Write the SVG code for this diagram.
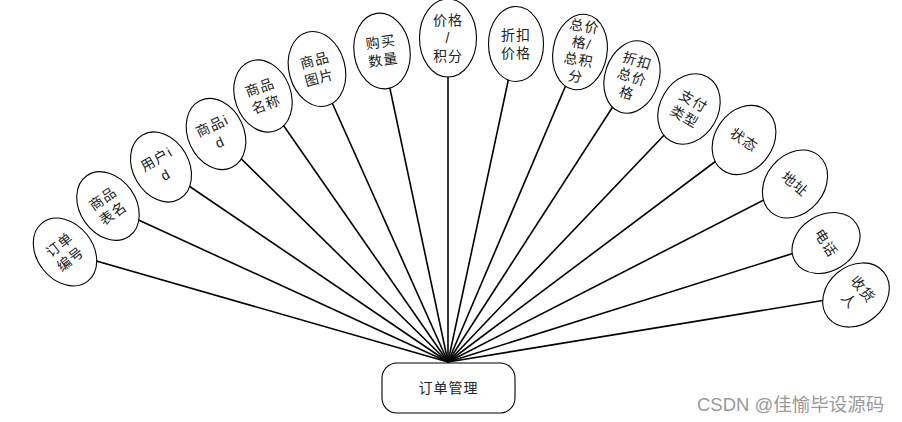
<svg xmlns="http://www.w3.org/2000/svg" width="902" height="422" viewBox="0 0 902 422">
<style>
.e{fill:#fff;stroke:#000;stroke-width:1.1}
.t{font-family:"Liberation Sans","Noto Sans CJK SC",sans-serif;font-size:14px;letter-spacing:1px;fill:#222;text-anchor:middle;dominant-baseline:central}
.c line{stroke:#000;stroke-width:1.6}
</style>
<rect width="902" height="422" fill="#fff"/>
<g id="connectors" class="c">
<line x1="448" y1="362" x2="65" y2="252"/>
<line x1="448" y1="362" x2="108" y2="206"/>
<line x1="448" y1="362" x2="161" y2="167"/>
<line x1="448" y1="362" x2="216" y2="134"/>
<line x1="448" y1="362" x2="263" y2="96"/>
<line x1="448" y1="362" x2="317" y2="69"/>
<line x1="448" y1="362" x2="382" y2="51"/>
<line x1="448" y1="362" x2="448" y2="38"/>
<line x1="448" y1="362" x2="516" y2="44"/>
<line x1="448" y1="362" x2="580" y2="52"/>
<line x1="448" y1="362" x2="632" y2="77"/>
<line x1="448" y1="362" x2="689" y2="109"/>
<line x1="448" y1="362" x2="744" y2="140"/>
<line x1="448" y1="362" x2="795" y2="184"/>
<line x1="448" y1="362" x2="826" y2="243"/>
<line x1="448" y1="362" x2="856" y2="295"/>
</g>
<g id="n1" transform="translate(65,252) rotate(-38)"><ellipse class="e" rx="28" ry="37"/><text class="t" y="-9">订单</text><text class="t" y="9">编号</text></g>
<g id="n2" transform="translate(108,206) rotate(-35)"><ellipse class="e" rx="28" ry="37"/><text class="t" y="-9">商品</text><text class="t" y="9">表名</text></g>
<g id="n3" transform="translate(161,167) rotate(-30)"><ellipse class="e" rx="28" ry="37"/><text class="t" y="-9">用户i</text><text class="t" y="9">d</text></g>
<g id="n4" transform="translate(216,134) rotate(-25)"><ellipse class="e" rx="28" ry="37"/><text class="t" y="-9">商品i</text><text class="t" y="9">d</text></g>
<g id="n5" transform="translate(263,96) rotate(-20)"><ellipse class="e" rx="28" ry="37"/><text class="t" y="-9">商品</text><text class="t" y="9">名称</text></g>
<g id="n6" transform="translate(317,69) rotate(-15)"><ellipse class="e" rx="28" ry="38"/><text class="t" y="-9">商品</text><text class="t" y="9">图片</text></g>
<g id="n7" transform="translate(382,51) rotate(-8)"><ellipse class="e" rx="28" ry="38"/><text class="t" y="-9">购买</text><text class="t" y="9">数量</text></g>
<g id="n8" transform="translate(448,38)"><ellipse class="e" rx="28.5" ry="39"/><text class="t" y="-18">价格</text><text class="t" y="0">/</text><text class="t" y="18">积分</text></g>
<g id="n9" transform="translate(516,44)"><ellipse class="e" rx="27.5" ry="37.5"/><text class="t" y="-9">折扣</text><text class="t" y="9">价格</text></g>
<g id="n10" transform="translate(580,52) rotate(10)"><ellipse class="e" rx="27" ry="38"/><text class="t" y="-26">总价</text><text class="t" y="-9">格/</text><text class="t" y="8">总积</text><text class="t" y="25">分</text></g>
<g id="n11" transform="translate(632,77) rotate(18)"><ellipse class="e" rx="27" ry="37"/><text class="t" y="-17">折扣</text><text class="t" y="0">总价</text><text class="t" y="17">格</text></g>
<g id="n12" transform="translate(689,109) rotate(30)"><ellipse class="e" rx="29" ry="37"/><text class="t" y="-9">支付</text><text class="t" y="9">类型</text></g>
<g id="n13" transform="translate(744,140) rotate(35)"><ellipse class="e" rx="29" ry="37"/><text class="t" y="0">状态</text></g>
<g id="n14" transform="translate(795,184) rotate(40)"><ellipse class="e" rx="29" ry="37"/><text class="t" y="0">地址</text></g>
<g id="n15" transform="translate(826,243) rotate(58)"><ellipse class="e" rx="28" ry="36"/><text class="t" y="0">电话</text></g>
<g id="n16" transform="translate(856,295) rotate(50)"><ellipse class="e" rx="29" ry="36"/><text class="t" y="-9">收货</text><text class="t" y="9">人</text></g>
<g id="main"><rect x="382" y="363" width="133" height="50" rx="15" fill="#fff" stroke="#000" stroke-width="1.1"/><text class="t" x="448.5" y="388">订单管理</text></g>
<text x="697" y="411" font-family="Liberation Sans,'Noto Sans CJK SC',sans-serif" font-size="18.5" fill="#999">CSDN @佳愉毕设源码</text>
</svg>
